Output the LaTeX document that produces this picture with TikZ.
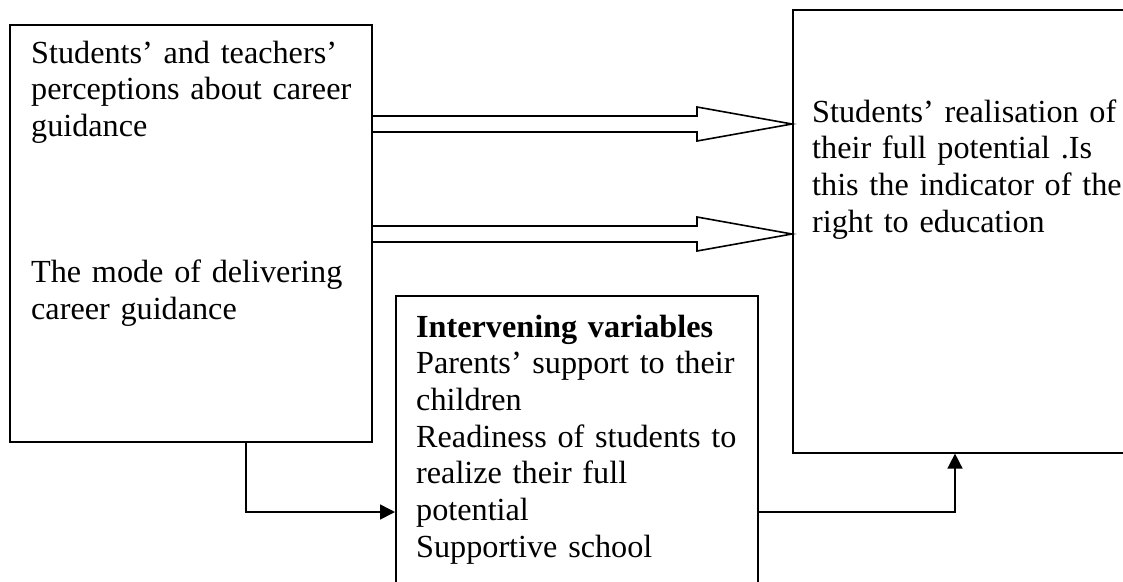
\documentclass[tikz,border=0pt]{standalone}
\usepackage{fontspec}
\setmainfont{Liberation Serif}
\usepackage{tikz}
\usetikzlibrary{arrows.meta}
\tikzstyle{box} = [rectangle, draw=black, line width=1.6pt, inner sep=0pt, anchor=north west]
\tikzstyle{boxtext} = [inner sep=0pt, text width=420pt, align=left, anchor=base west, font=\fontsize{32.2pt}{36.7pt}\selectfont]
\tikzstyle{blockarrow} = [draw=black, line width=1.6pt, line join=miter]
\tikzstyle{arrow} = [line width=1.6pt,->,>={Triangle[length=15pt,width=15pt]}]

\begin{document}
\begin{tikzpicture}[x=1pt, y=-1pt]
        \useasboundingbox (0,0) rectangle (1123,581);
        % Boxes
        \node (percept) [box, minimum width=362, minimum height=417] at (9,24) {};
        \node (realise) [box, minimum width=350, minimum height=443] at (792,9) {};
        \node (interv) [box, minimum width=362, minimum height=320] at (395,295) {};

        % Texts
        \node (perceptText) [boxtext] at ([shift={(22,39)}]percept.north west)
            {Students’ and teachers’\\ perceptions about career\\ guidance\\[109.4pt] The mode of delivering\\ career guidance};
        \node (realiseText) [boxtext] at ([shift={(20,113)}]realise.north west)
            {Students’ realisation of\\ their full potential .Is\\ this the indicator of the\\ right to education};
        \node (intervText) [boxtext] at ([shift={(21,42)}]interv.north west)
            {\textbf{Intervening variables}\\ Parents’ support to their\\ children\\ Readiness of students to\\ realize their full\\ potential\\ Supportive school};

        % Block arrows
        \draw [blockarrow] (percept.east |- 0,116) -- (697,116) -- (697,107) -- (realise.west |- 0,124)
            -- (697,141) -- (697,132) -- (percept.east |- 0,132);
        \draw [blockarrow] (percept.east |- 0,226) -- (697,226) -- (697,217) -- (realise.west |- 0,234)
            -- (697,251) -- (697,242) -- (percept.east |- 0,242);

        % Arrows
        \draw [arrow] (percept.south -| 246,0) |- (interv.west |- 0,512);
        \draw [arrow] (interv.east |- 0,512) -| (realise.south -| 955,0);
    \end{tikzpicture}
\end{document}
